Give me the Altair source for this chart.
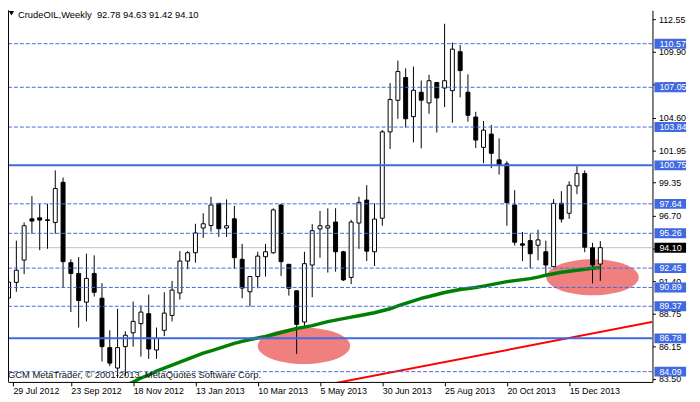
import altair as alt
import pandas as pd

FONT = "Liberation Sans"

# ---- weekly OHLC (bar 0 = week of 29 Jul 2012) ----
opens = [90.04, 91.30, 93.10, 96.43, 96.51, 96.35, 96.13, 99.38, 92.89, 92.02,
         89.70, 92.02, 90.02, 86.03, 84.38, 86.11, 87.23, 87.97, 88.77, 85.84,
         87.43, 88.63, 90.44, 93.02, 93.69, 95.69, 95.89, 97.68, 95.69, 96.43,
         93.16, 90.54, 91.77, 93.37, 93.69, 97.55, 92.76, 90.62, 88.10, 92.70,
         95.61, 95.69, 96.17, 93.77, 91.70, 96.09, 97.94, 93.77, 96.48, 103.45,
         106.00, 107.84, 104.68, 106.65, 105.79, 107.44, 106.99, 106.78, 109.92, 106.65,
         104.65, 102.20, 103.27, 101.19, 100.87, 97.55, 94.41, 94.67, 94.30, 93.77,
         92.57, 97.68, 96.88, 99.09, 100.08, 94.09, 92.78]
highs = [91.72, 94.67, 96.13, 98.26, 97.63, 97.63, 100.34, 99.76, 93.16, 93.34,
         93.61, 93.48, 91.24, 87.43, 89.17, 87.35, 89.75, 89.43, 90.31, 87.65,
         90.50, 91.42, 93.82, 93.82, 96.03, 96.88, 98.21, 97.70, 98.00, 97.47,
         94.41, 91.82, 93.77, 94.41, 97.28, 97.63, 92.76, 90.68, 93.77, 96.00,
         97.07, 97.28, 97.28, 93.85, 96.35, 98.21, 99.14, 97.68, 103.60, 107.39,
         109.20, 108.58, 108.72, 107.60, 108.06, 107.46, 112.18, 110.66, 110.45, 108.10,
         105.07, 104.33, 104.01, 102.92, 101.08, 98.74, 95.37, 95.21, 95.55, 94.67,
         98.02, 98.66, 99.46, 100.68, 100.34, 94.49, 94.63]
lows = [89.56, 90.54, 91.96, 95.23, 93.90, 94.01, 95.23, 90.84, 88.90, 87.65,
        88.15, 90.15, 84.91, 84.54, 83.58, 83.74, 86.11, 85.31, 85.12, 85.12,
        86.96, 88.15, 89.91, 92.36, 92.89, 94.89, 95.40, 94.97, 94.97, 92.41,
        90.02, 89.35, 90.82, 91.77, 93.61, 91.82, 90.23, 85.52, 87.70, 90.10,
        93.29, 92.09, 92.17, 91.40, 91.16, 94.01, 93.02, 92.62, 95.87, 102.07,
        104.51, 103.80, 102.60, 102.12, 104.91, 103.40, 105.45, 104.19, 106.24, 104.27,
        102.15, 100.92, 100.52, 100.00, 95.87, 94.27, 93.02, 92.44, 93.08, 91.96,
        92.52, 96.13, 96.43, 98.42, 93.74, 91.22, 91.42]
closes = [91.32, 92.28, 95.87, 96.25, 96.33, 96.30, 98.88, 92.97, 92.02, 89.83,
          91.62, 90.50, 86.11, 84.78, 86.03, 87.03, 88.15, 88.90, 85.92, 86.77,
          88.82, 90.68, 93.02, 93.69, 95.29, 96.03, 97.55, 95.63, 95.87, 93.29,
          90.84, 91.77, 93.42, 93.77, 97.15, 92.97, 90.82, 87.91, 92.81, 95.47,
          95.87, 95.87, 93.77, 91.50, 96.17, 97.76, 93.82, 96.41, 103.45, 106.06,
          108.32, 104.51, 106.81, 106.01, 107.58, 106.19, 107.58, 110.13, 108.40, 104.79,
          102.79, 103.59, 101.72, 100.74, 97.73, 94.54, 94.30, 93.61, 94.73, 92.70,
          97.68, 96.41, 99.14, 100.08, 94.14, 92.70, 94.10]

# ---- moving average (green), starting at bar 15 ----
ma_start = 15
ma_values = [82.94, 83.26, 83.58, 83.82, 84.14, 84.38, 84.62, 84.86, 85.10, 85.34,
             85.58, 85.77, 85.97, 86.17, 86.37, 86.53, 86.69, 86.81, 86.93, 87.09,
             87.25, 87.41, 87.57, 87.69, 87.81, 87.97, 88.13, 88.25, 88.37, 88.49,
             88.61, 88.73, 88.85, 89.01, 89.17, 89.41, 89.61, 89.81, 90.01, 90.16,
             90.32, 90.48, 90.60, 90.72, 90.80, 90.88, 91.00, 91.12, 91.24, 91.36,
             91.44, 91.52, 91.60, 91.72, 91.88, 92.00, 92.12, 92.20, 92.28, 92.36,
             92.44, 92.49]

# ---- red trend line ----
trend_bars = [40, 84]
trend_prices = [82.93, 88.26]

# ---- horizontal levels ----
dashed_levels = [110.57, 107.05, 103.84, 97.64, 95.26, 92.45, 90.89, 89.37, 84.09]
solid_levels = [100.75, 86.78]
bid_level = [94.10]

# ---- highlighted zones (ellipse centres) ----
zone_bars = [37.94, 75.0]
zone_prices = [86.17, 91.72]

# ---- axis text ----
x_label_bars = [0, 8, 16, 24, 32, 40, 48, 56, 64, 72]
x_labels = ["29 Jul 2012", "23 Sep 2012", "18 Nov 2012", "13 Jan 2013", "10 Mar 2013",
            "5 May 2013", "30 Jun 2013", "25 Aug 2013", "20 Oct 2013", "15 Dec 2013"]
y_ticks = [112.55, 109.90, 107.25, 104.60, 101.95, 99.35, 96.70, 94.05, 91.40, 88.75, 86.15, 83.50]

title_text = "CrudeOIL,Weekly\u00a0 92.78 94.63 91.42 94.10"
copyright_text = "GCM MetaTrader, \u00a9 2001-2013, MetaQuotes Software Corp."

# ---- layout ----
W, H = 652, 376
X_MIN = 0.5625
X_MAX = X_MIN + W / 8.0
Y_MIN, Y_MAX = 83.261, 113.268

xs = alt.Scale(domain=[X_MIN, X_MAX], nice=False, zero=False)
ys = alt.Scale(domain=[Y_MIN, Y_MAX], nice=False, zero=False)

candles = pd.DataFrame({"bar": list(range(len(opens))), "open": opens, "high": highs,
                        "low": lows, "close": closes})
candles["dir"] = ["up" if c >= o else "down" for o, c in zip(opens, closes)]

ma = pd.DataFrame({"bar": list(range(ma_start, ma_start + len(ma_values))), "ma": ma_values})
trend = pd.DataFrame({"bar": trend_bars, "price": trend_prices})
zones = pd.DataFrame({"bar": zone_bars, "price": zone_prices})

label_expr = "[" + ",".join("'%s'" % l for l in x_labels) + "][round(datum.value / 8)]"
x_tick_vals = [max(float(b), X_MIN) for b in x_label_bars]

x_axis = alt.Axis(values=x_tick_vals, labelExpr=label_expr, orient="bottom", tickSize=4,
                  labelAlign="left", labelBaseline="top", labelPadding=1, labelFontSize=9,
                  labelFont=FONT, labelColor="black", domainColor="black", tickColor="black",
                  grid=False, title=None, labelFlush=False, labelOverlap=False)
y_axis = alt.Axis(values=y_ticks, format=".2f", orient="right", tickSize=3, labelPadding=3,
                  labelFontSize=9, labelFont=FONT, labelColor="black", domainColor="black",
                  tickColor="black", grid=False, title=None, labelFlush=False, labelOverlap=False)


def X(f="bar"):
    return alt.X(f + ":Q", scale=xs, axis=x_axis)


def Y(f):
    return alt.Y(f + ":Q", scale=ys, axis=y_axis)


ellipse = "M -1 0 A 1 0.39 0 1 0 1 0 A 1 0.39 0 1 0 -1 0 Z"
zone_layer = alt.Chart(zones).mark_point(shape=ellipse, size=8750, filled=True,
                                         color="#F08080", opacity=1, strokeWidth=0).encode(
    x=X(), y=Y("price"))

bid_line = alt.Chart(pd.DataFrame({"level": bid_level})).mark_rule(
    color="#C0C0C0", strokeWidth=1).encode(y=Y("level"))

wicks = alt.Chart(candles).mark_rule(color="black", strokeWidth=1, clip=True).encode(
    x=X(), y=Y("low"), y2="high:Q")

bodies = alt.Chart(candles).mark_bar(size=4, stroke="black", strokeWidth=1, opacity=1,
                                     clip=True).encode(
    x=X(), y=Y("open"), y2="close:Q",
    fill=alt.Fill("dir:N", scale=alt.Scale(domain=["up", "down"], range=["white", "black"]),
                  legend=None))

ma_line = alt.Chart(ma).mark_line(color="#008000", strokeWidth=3.5, clip=True).encode(
    x=X(), y=Y("ma"))

trend_line = alt.Chart(trend).mark_line(color="#FF0000", strokeWidth=2, clip=True).encode(
    x=X(), y=Y("price"))

dashed = alt.Chart(pd.DataFrame({"level": dashed_levels})).mark_rule(
    color="#4169E1", strokeWidth=1, strokeDash=[4, 2]).encode(y=Y("level"))
solid = alt.Chart(pd.DataFrame({"level": solid_levels})).mark_rule(
    color="#4169E1", strokeWidth=2).encode(y=Y("level"))

boxes_df = pd.DataFrame({
    "level": dashed_levels + solid_levels + bid_level,
    "kind": ["line"] * (len(dashed_levels) + len(solid_levels)) + ["bid"] * len(bid_level)})
boxes = alt.Chart(boxes_df).mark_tick(orient="horizontal", size=32, thickness=10,
                                      opacity=1).encode(
    x=alt.value(W + 18), y=Y("level"),
    color=alt.Color("kind:N", scale=alt.Scale(domain=["line", "bid"],
                                              range=["#4169E1", "#000000"]), legend=None))
box_text = alt.Chart(boxes_df).mark_text(align="left", baseline="middle", color="white",
                                         font=FONT, fontSize=9).encode(
    x=alt.value(W + 7), y=Y("level"), text=alt.Text("level:Q", format=".2f"))

title = alt.Chart(pd.DataFrame({"t": [title_text]})).mark_text(
    align="left", baseline="top", font=FONT, fontSize=9.5, color="black").encode(
    x=alt.value(10), y=alt.value(0), text="t:N")
tri = alt.Chart(pd.DataFrame({"t": [0]})).mark_point(
    shape="triangle-down", filled=True, color="black", size=28, opacity=1).encode(
    x=alt.value(3.5), y=alt.value(3))
copyright_ = alt.Chart(pd.DataFrame({"t": [copyright_text]})).mark_text(
    align="left", baseline="alphabetic", font=FONT, fontSize=9.5, color="#111111").encode(
    x=alt.value(0), y=alt.value(H - 4), text="t:N")
left_border = alt.Chart(pd.DataFrame({"t": [0]})).mark_rule(color="black", strokeWidth=1).encode(
    x=alt.value(0.5), y=alt.value(0), y2=alt.value(H))

chart = alt.layer(
    zone_layer, bid_line, wicks, bodies, ma_line, trend_line, dashed, solid,
    boxes, box_text, title, tri, copyright_, left_border
).properties(
    width=W, height=H,
    padding={"left": 0, "top": 0, "right": 40, "bottom": 18},
    autosize=alt.AutoSizeParams(type="none"),
    background="white",
).configure_view(strokeWidth=0)

chart.save("out.html", embed_options={"renderer": "svg", "actions": False})
